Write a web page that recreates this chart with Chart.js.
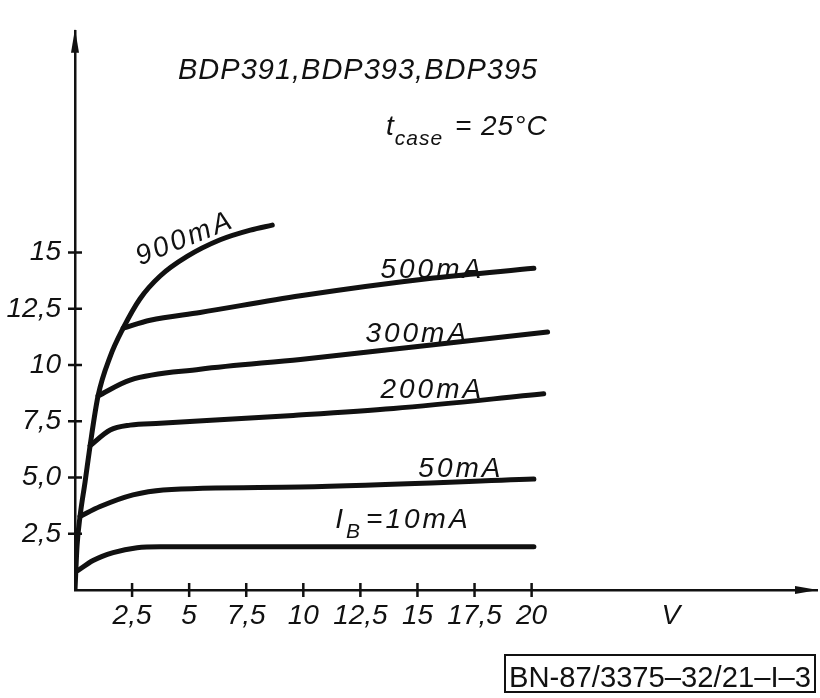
<!DOCTYPE html>
<html>
<head>
<meta charset="utf-8">
<script src="https://cdn.jsdelivr.net/npm/chart.js@4.4.0/dist/chart.umd.min.js"></script>
<style>
  html, body { margin: 0; padding: 0; background: #fff; }
</style>
</head>
<body>
<canvas id="chart" width="820" height="698"></canvas>
<script>
// collector current (A) vs collector-emitter voltage (V), one curve per base current
const v10 = [0.13, 0.79, 1.67, 2.72, 3.73, 20.1];
const i10 = [0.87, 1.31, 1.66, 1.88, 1.92, 1.92];
const v50 = [0.22, 1.10, 2.54, 3.86, 9.87, 20.1];
const i50 = [3.27, 3.71, 4.23, 4.45, 4.58, 4.93];
const v200 = [0.66, 1.54, 2.41, 3.73, 9.56, 13.95, 20.53];
const i200 = [6.41, 7.11, 7.33, 7.41, 7.76, 8.07, 8.72];
const v300 = [1.01, 2.41, 5.48, 9.87, 15.7, 20.7];
const i300 = [8.63, 9.33, 9.81, 10.25, 10.9, 11.47];
const v500 = [2.11, 3.29, 5.48, 9.87, 15.7, 20.1];
const i500 = [11.64, 11.99, 12.34, 13.08, 13.87, 14.3];
const v900 = [0, 0.09, 0.22, 0.44, 0.66, 1.01, 1.54, 2.11, 2.85, 3.73, 4.91, 6.36, 7.68, 8.64];
const i900 = [0, 1.96, 3.27, 4.80, 6.41, 8.63, 10.38, 11.64, 12.95, 13.96, 14.83, 15.57, 16.0, 16.22];

const xTickValues = [2.5, 5, 7.5, 10, 12.5, 15, 17.5, 20];
const xTickLabels = ["2,5", "5", "7,5", "10", "12,5", "15", "17,5", "20"];
const yTickValues = [2.5, 5, 7.5, 10, 12.5, 15];
const yTickLabels = ["2,5", "5,0", "7,5", "10", "12,5", "15"];
const xUnit = "V";
const xUnitAt = 26.1;

const FONT = '"Liberation Sans", Arial, sans-serif';
const INK = "#111";

const toPoints = (xs, ys) => xs.map((x, i) => ({ x: x, y: ys[i] }));

// label anchors in data units (left edge / baseline unless centred)
const curveLabels = [
  { parts: [["900mA"]], x: 4.82, y: 15.61, angle: -22, center: true },
  { parts: [["500mA"]], x: 13.38, y: 13.87 },
  { parts: [["300mA"]], x: 12.72, y: 11.03 },
  { parts: [["200mA"]], x: 13.38, y: 8.55 },
  { parts: [["50mA"]], x: 15.04, y: 5.02 },
  { parts: [["I"], ["B", true], ["=10mA"]], x: 11.4, y: 2.75 }
];

function drawParts(ctx, parts, x, y, size) {
  let cx = x;
  parts.forEach(p => {
    const sub = p[1];
    ctx.font = "italic " + (sub ? size * 0.75 : size) + "px " + FONT;
    ctx.fillText(p[0], cx, sub ? y + size * 0.35 : y);
    cx += ctx.measureText(p[0]).width + (sub ? 3 : 0);
  });
}

const decorations = {
  id: "decorations",
  afterDraw(chart) {
    const ctx = chart.ctx;
    const xs = chart.scales.x;
    const ys = chart.scales.y;
    const a = chart.chartArea;
    ctx.save();
    ctx.strokeStyle = INK;
    ctx.fillStyle = INK;
    ctx.lineWidth = 2.5;

    // small ticks crossing the axes
    ctx.beginPath();
    xTickValues.forEach(v => {
      const px = xs.getPixelForValue(v);
      ctx.moveTo(px, a.bottom - 7);
      ctx.lineTo(px, a.bottom + 7);
    });
    yTickValues.forEach(v => {
      const py = ys.getPixelForValue(v);
      ctx.moveTo(a.left - 7, py);
      ctx.lineTo(a.left + 7, py);
    });
    ctx.stroke();

    // arrow heads
    ctx.beginPath();
    ctx.moveTo(a.left, a.top - 2);
    ctx.lineTo(a.left - 4, a.top + 22);
    ctx.lineTo(a.left + 4, a.top + 22);
    ctx.closePath();
    ctx.fill();
    ctx.beginPath();
    ctx.moveTo(a.right + 1, a.bottom);
    ctx.lineTo(a.right - 22, a.bottom - 4);
    ctx.lineTo(a.right - 22, a.bottom + 4);
    ctx.closePath();
    ctx.fill();

    // curve labels
    ctx.letterSpacing = "3px";
    ctx.textBaseline = "alphabetic";
    curveLabels.forEach(l => {
      const px = xs.getPixelForValue(l.x);
      const py = ys.getPixelForValue(l.y);
      if (l.center) {
        ctx.save();
        ctx.translate(px, py);
        ctx.rotate(l.angle * Math.PI / 180);
        ctx.textAlign = "center";
        ctx.textBaseline = "middle";
        ctx.font = "italic 28px " + FONT;
        ctx.fillText(l.parts[0][0], 0, 0);
        ctx.restore();
      } else {
        ctx.textAlign = "left";
        drawParts(ctx, l.parts, px, py, 28);
      }
    });

    // heading
    ctx.letterSpacing = "1px";
    ctx.textAlign = "left";
    ctx.font = "italic 29px " + FONT;
    ctx.fillText("BDP391,BDP393,BDP395", 178, 79);
    drawParts(ctx, [["t"], ["case", true], [" = 25°C"]], 386, 135, 28);

    // drawing number box
    ctx.letterSpacing = "0px";
    ctx.font = "30px " + FONT;
    ctx.textAlign = "center";
    ctx.fillText("BN-87/3375–32/21–I–3", 660, 687, 302);
    ctx.lineWidth = 2;
    ctx.strokeRect(505, 655, 310, 37);
    ctx.restore();
  }
};

const curve = (pts) => ({
  data: pts,
  borderColor: INK,
  borderWidth: 5,
  pointRadius: 0,
  fill: false,
  cubicInterpolationMode: "monotone",
  borderCapStyle: "round",
  borderJoinStyle: "round"
});

new Chart(document.getElementById("chart"), {
  type: "line",
  data: {
    datasets: [
      curve(toPoints(v10, i10)),
      curve(toPoints(v50, i50)),
      curve(toPoints(v200, i200)),
      curve(toPoints(v300, i300)),
      curve(toPoints(v500, i500)),
      curve(toPoints(v900, i900))
    ]
  },
  options: {
    responsive: false,
    animation: false,
    layout: { padding: { top: 20, right: 3, left: 0, bottom: 0 } },
    plugins: { legend: { display: false }, tooltip: { enabled: false } },
    scales: {
      x: {
        type: "linear",
        min: 0,
        max: 32.5,
        grid: { display: false, drawTicks: false },
        border: { display: true, color: INK, width: 2.5 },
        afterBuildTicks: s => { s.ticks = xTickValues.concat([xUnitAt]).map(v => ({ value: v })); },
        afterFit: s => { s.height = 108; },
        ticks: {
          autoSkip: false,
          maxRotation: 0,
          padding: 9,
          color: INK,
          font: { family: FONT, size: 28, style: "italic" },
          callback: v => v === xUnitAt ? xUnit : xTickLabels[xTickValues.indexOf(v)]
        }
      },
      y: {
        type: "linear",
        min: 0,
        max: 24.86,
        grid: { display: false, drawTicks: false },
        border: { display: true, color: INK, width: 2.5 },
        afterBuildTicks: s => { s.ticks = yTickValues.map(v => ({ value: v })); },
        afterFit: s => { s.width = 75; },
        ticks: {
          autoSkip: false,
          padding: 14,
          color: INK,
          font: { family: FONT, size: 28, style: "italic" },
          callback: v => yTickLabels[yTickValues.indexOf(v)]
        }
      }
    }
  },
  plugins: [decorations]
});
</script>
</body>
</html>
